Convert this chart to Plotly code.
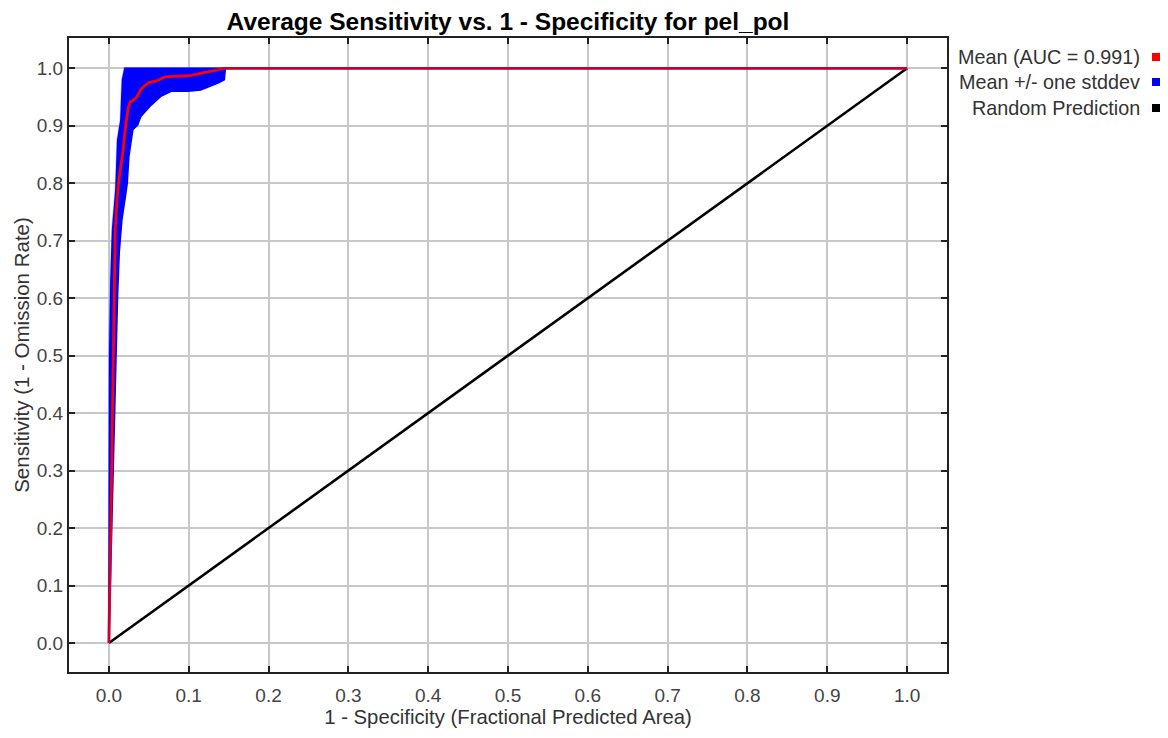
import plotly.graph_objects as go

# Mean ROC curve (1 - specificity, sensitivity)
mean_x = [0.0, 0.002, 0.004, 0.006, 0.008, 0.010, 0.012, 0.015, 0.018, 0.021, 0.024, 0.027,
          0.030, 0.035, 0.040, 0.045, 0.050, 0.060, 0.070, 0.080, 0.090, 0.100, 0.110,
          0.120, 0.130, 0.140, 0.145, 1.0]
mean_y = [0.0, 0.18, 0.40, 0.58, 0.72, 0.77, 0.80, 0.83, 0.86, 0.90, 0.93, 0.942,
          0.944, 0.950, 0.963, 0.970, 0.975, 0.978, 0.985, 0.986, 0.986, 0.987, 0.990,
          0.993, 0.995, 0.998, 1.0, 1.0]

# Mean + one stddev (upper edge of band)
upper_x = [0.0, 0.0004, 0.001, 0.0025, 0.0046, 0.0070, 0.0088, 0.011, 0.015, 0.017, 0.020, 0.145, 1.0]
upper_y = [0.0, 0.40, 0.50, 0.63, 0.72, 0.76, 0.79, 0.875, 0.91, 0.98, 1.0, 1.0, 1.0]

# Mean - one stddev (lower edge of band)
lower_x = [0.0, 0.005, 0.0066, 0.0088, 0.011, 0.013, 0.0163, 0.021, 0.023, 0.025, 0.030,
           0.036, 0.040, 0.053, 0.065, 0.078, 0.099, 0.115, 0.136, 0.1446, 0.146, 1.0]
lower_y = [0.0, 0.30, 0.376, 0.49, 0.61, 0.68, 0.736, 0.78, 0.80, 0.846, 0.893,
           0.901, 0.916, 0.936, 0.951, 0.96, 0.96, 0.962, 0.974, 0.98, 1.0, 1.0]

random_x = [0.0, 1.0]
random_y = [0.0, 1.0]

tick_vals = [0.0, 0.1, 0.2, 0.3, 0.4, 0.5, 0.6, 0.7, 0.8, 0.9, 1.0]

legend_labels = ["Mean (AUC = 0.991)", "Mean +/- one stddev", "Random Prediction"]
legend_colors = ["#ff0000", "#0000ff", "#000000"]

FONT = "Liberation Sans, Arial, sans-serif"

# page body has an 8px margin: figure is 1160x730 placed at (8, 8)
OFF = 8
FIG_W, FIG_H = 1168 - OFF, 738 - OFF
PL, PR, PT, PB = 69, 947, 38, 672   # plot frame in screen pixels

fig = go.Figure()

band_x = upper_x + lower_x[::-1]
band_y = upper_y + lower_y[::-1]
fig.add_trace(go.Scatter(x=band_x, y=band_y, mode="lines", fill="toself",
                         fillcolor="#0000ff", line=dict(color="#0000ff", width=1.5),
                         hoverinfo="skip", showlegend=False))

fig.add_trace(go.Scatter(x=random_x, y=random_y, mode="lines",
                         line=dict(color="#000000", width=2.6), showlegend=False))

fig.add_trace(go.Scatter(x=mean_x, y=mean_y, mode="lines",
                         line=dict(color="#ff0000", width=2.8), showlegend=False))

fig.add_trace(go.Scatter(x=upper_x, y=upper_y, mode="lines", opacity=0.22,
                         line=dict(color="#0000ff", width=2.8), hoverinfo="skip",
                         showlegend=False))

axis_common = dict(
    tickvals=tick_vals, tickformat=".1f", ticks="inside", ticklen=6, tickwidth=2,
    tickcolor="#222222", showline=True, linecolor="#222222", linewidth=2,
    mirror="ticks", showgrid=True, gridcolor="#c8c8c8", gridwidth=1.5,
    zeroline=False, tickfont=dict(family=FONT, size=19, color="#444444"),
)

fig.update_layout(
    width=FIG_W, height=FIG_H,
    paper_bgcolor="white", plot_bgcolor="white",
    margin=dict(l=PL - OFF, r=1168 - PR, t=PT - OFF, b=738 - PB, autoexpand=False),
    title=dict(text="<b>Average Sensitivity vs. 1 - Specificity for pel_pol</b>",
               x=((PL + PR) / 2 - OFF) / FIG_W, xanchor="center",
               y=1 - (21 - OFF) / FIG_H, yanchor="middle",
               font=dict(family=FONT, size=24.5, color="#000000")),
    xaxis=dict(**axis_common, range=[-0.05, 1.05], ticklabelstandoff=5,
               title=dict(text="1 - Specificity (Fractional Predicted Area)",
                          font=dict(family=FONT, size=20.3, color="#333333"), standoff=5)),
    yaxis=dict(**axis_common, range=[-0.0505, 1.0527],
               title=dict(text="Sensitivity (1 - Omission Rate)",
                          font=dict(family=FONT, size=20.5, color="#333333"), standoff=2)),
    showlegend=False,
)

plot_w = PR - PL
plot_h = PB - PT
rows_px = [57, 82, 108]
for lab, col, py in zip(legend_labels, legend_colors, rows_px):
    yp = (PB - py) / plot_h
    fig.add_annotation(x=(1142 - PL) / plot_w, y=yp, xref="paper", yref="paper",
                       text=lab, showarrow=False, xanchor="right", yanchor="middle",
                       font=dict(family=FONT, size=19.8, color="#333333"))
    fig.add_shape(type="rect", xref="paper", yref="paper",
                  x0=(1152 - PL) / plot_w, x1=(1160 - PL) / plot_w,
                  y0=yp - 4 / plot_h, y1=yp + 4 / plot_h,
                  fillcolor=col, line=dict(width=0))

fig.write_html("out.html")
